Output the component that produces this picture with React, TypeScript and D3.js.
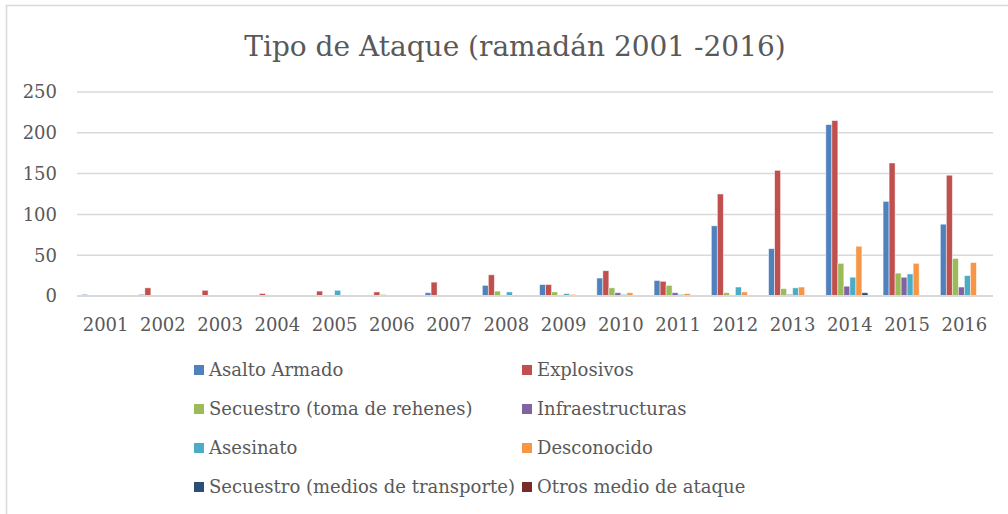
import React from 'react'
import * as d3 from 'd3'

const years = ['2001', '2002', '2003', '2004', '2005', '2006', '2007', '2008', '2009', '2010', '2011', '2012', '2013', '2014', '2015', '2016']

const asaltoArmado = [2, 2, 0, 0, 0, 0, 4, 13, 14, 22, 19, 86, 58, 210, 116, 88]
const explosivos = [0, 10, 7, 3, 6, 5, 17, 26, 14, 31, 18, 125, 154, 215, 163, 148]
const secuestroRehenes = [0, 0, 0, 0, 0, 2, 0, 6, 5, 10, 13, 4, 9, 40, 28, 46]
const infraestructuras = [0, 0, 0, 0, 0, 0, 0, 0, 0, 4, 4, 0, 2, 12, 23, 11]
const asesinato = [0, 0, 0, 0, 7, 0, 1, 5, 3, 2, 2, 11, 10, 23, 27, 25]
const desconocido = [0, 0, 0, 0, 0, 0, 0, 0, 2, 4, 3, 5, 11, 61, 40, 41]
const secuestroTransporte = [0, 0, 0, 0, 0, 0, 0, 0, 0, 0, 0, 0, 0, 4, 0, 0]
const otrosMedios = [0, 0, 0, 0, 0, 0, 0, 0, 0, 0, 0, 0, 0, 0, 0, 0]

const seriesNames = [
  'Asalto Armado',
  'Explosivos',
  'Secuestro (toma de rehenes)',
  'Infraestructuras',
  'Asesinato',
  'Desconocido',
  'Secuestro (medios de transporte)',
  'Otros medio de ataque',
]
const seriesValues = [asaltoArmado, explosivos, secuestroRehenes, infraestructuras, asesinato, desconocido, secuestroTransporte, otrosMedios]
const colors = ['#4F81BD', '#C0504D', '#9BBB59', '#8064A2', '#4BACC6', '#F79646', '#2C4D75', '#772C2A']
const yTicks = [0, 50, 100, 150, 200, 250]

const W = 1008
const H = 514
const margin = { top: 92, right: 15, bottom: 218, left: 77 }
const font = '"DejaVu Serif", serif'
const textColor = '#595959'

export default function App() {
  const x = d3.scaleBand().domain(years).range([margin.left, W - margin.right]).paddingInner(0.16).paddingOuter(0.08)
  const x1 = d3.scaleBand().domain(seriesNames).range([0, x.bandwidth()])
  const y = d3.scaleLinear().domain([0, 250]).range([H - margin.bottom, margin.top])

  // legend: two columns, four rows
  const legendCol = [194, 522]
  const legendRow = d3.scaleLinear().domain([0, 3]).range([370, 487])

  return (
    <svg width={W} height={H} style={{ position: 'absolute', left: 0, top: 0, background: '#fff' }}>
      <rect x={6.5} y={5.5} width={W + 10} height={H + 10} fill="#fff" stroke="#d9d9d9" strokeWidth={1.5} />
      <text x={515} y={56} textAnchor="middle" fontFamily={font} fontSize={28} fill={textColor}>
        Tipo de Ataque (ramadán 2001 -2016)
      </text>

      {yTicks.map((t) => (
        <g key={t}>
          <line x1={margin.left} x2={W - margin.right} y1={y(t)} y2={y(t)} stroke="#d9d9d9" strokeWidth={1.5} />
          <text x={57} y={y(t)} dy="0.35em" textAnchor="end" fontFamily={font} fontSize={18} fill={textColor}>
            {t}
          </text>
        </g>
      ))}

      {seriesValues.map((vals, si) => (
        <g key={seriesNames[si]} fill={colors[si]}>
          {vals.map((v, i) =>
            v > 0 ? (
              <rect
                key={years[i]}
                x={(x(years[i]) ?? 0) + (x1(seriesNames[si]) ?? 0)}
                y={y(v)}
                width={x1.bandwidth()}
                height={y(0) - y(v)}
                stroke="#fff"
                strokeOpacity={0.6}
                strokeWidth={0.8}
              />
            ) : null
          )}
        </g>
      ))}

      <line x1={margin.left} x2={W - margin.right} y1={y(0)} y2={y(0)} stroke="#d9d9d9" strokeWidth={2} />

      {years.map((yr) => (
        <text key={yr} x={(x(yr) ?? 0) + x.bandwidth() / 2} y={331} textAnchor="middle" fontFamily={font} fontSize={18} fill={textColor}>
          {yr}
        </text>
      ))}

      {seriesNames.map((name, i) => {
        const lx = legendCol[i % 2]
        const ly = legendRow(Math.floor(i / 2))
        return (
          <g key={name}>
            <rect x={lx} y={ly - 5} width={10} height={10} fill={colors[i]} />
            <text x={lx + 15} y={ly} dy="0.35em" fontFamily={font} fontSize={18} fill={textColor}>
              {name}
            </text>
          </g>
        )
      })}
    </svg>
  )
}
